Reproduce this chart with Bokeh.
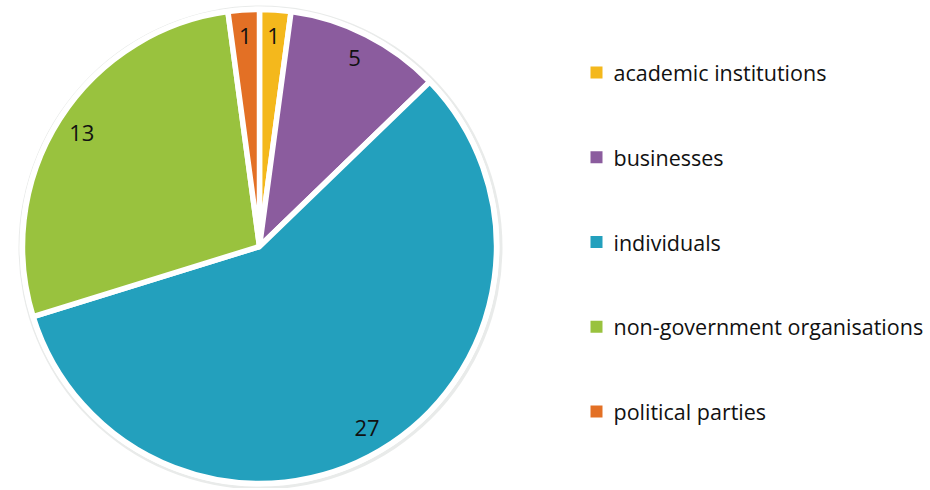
import math
from bokeh.plotting import figure
from bokeh.models import ColumnDataSource
from bokeh.core.properties import value
from bokeh.embed import file_html
from bokeh.resources import INLINE

categories = ["academic institutions", "businesses", "individuals",
              "non-government organisations", "political parties"]
counts = [1, 5, 27, 13, 1]
colors = ["#F4B81C", "#8B5C9E", "#23A0BD", "#99C23E", "#E37025"]

W, H = 926, 488
cx, cy, R = 259, H - 246, 237

total = sum(counts)
starts, ends, lx, ly = [], [], [], []
cum = 0.0
for c in counts:
    a0 = math.pi / 2 - 2 * math.pi * cum / total
    a1 = math.pi / 2 - 2 * math.pi * (cum + c) / total
    starts.append(a1)
    ends.append(a0)
    mid = (a0 + a1) / 2
    lx.append(cx + 0.89 * R * math.cos(mid))
    ly.append(cy + 0.89 * R * math.sin(mid))
    cum += c

src = ColumnDataSource(dict(start=starts, end=ends, color=colors,
                            lx=lx, ly=ly, lab=[str(c) for c in counts],
                            cat=categories))

p = figure(width=W, height=H, x_range=(0, W), y_range=(0, H),
           output_backend="svg", toolbar_location=None,
           min_border=0, outline_line_color=None)
p.axis.visible = False
p.grid.visible = False
p.background_fill_color = "white"

# faint shadow halo
p.circle(x=[cx + 1], y=[cy - 1], radius=R + 5, fill_color="#e9ebea",
         line_color=None)
p.circle(x=[cx], y=[cy], radius=R + 3, fill_color="white", line_color=None)

p.wedge(x=cx, y=cy, radius=R, start_angle="start", end_angle="end",
        fill_color="color", line_color="white", line_width=5.5, source=src)

p.text(x="lx", y="ly", text="lab", source=src, text_align="center",
       text_baseline="middle", text_font=value("Open Sans"),
       text_font_size="22px", text_color="#111111")

# legend
leg_x = [596] * len(categories)
leg_y = [H - (72 + 84.75 * i) for i in range(len(categories))]
lsrc = ColumnDataSource(dict(x=leg_x, y=leg_y, color=colors, cat=categories,
                             tx=[x + 17 for x in leg_x]))
p.scatter(x="x", y="y", marker="square", size=12, fill_color="color",
          line_color=None, source=lsrc)
p.text(x="tx", y="y", text="cat", source=lsrc, text_align="left",
       text_baseline="middle", text_font=value("Open Sans"),
       text_font_size="21.5px", text_color="#111111")

open("out.html", "w").write(file_html(p, INLINE))
